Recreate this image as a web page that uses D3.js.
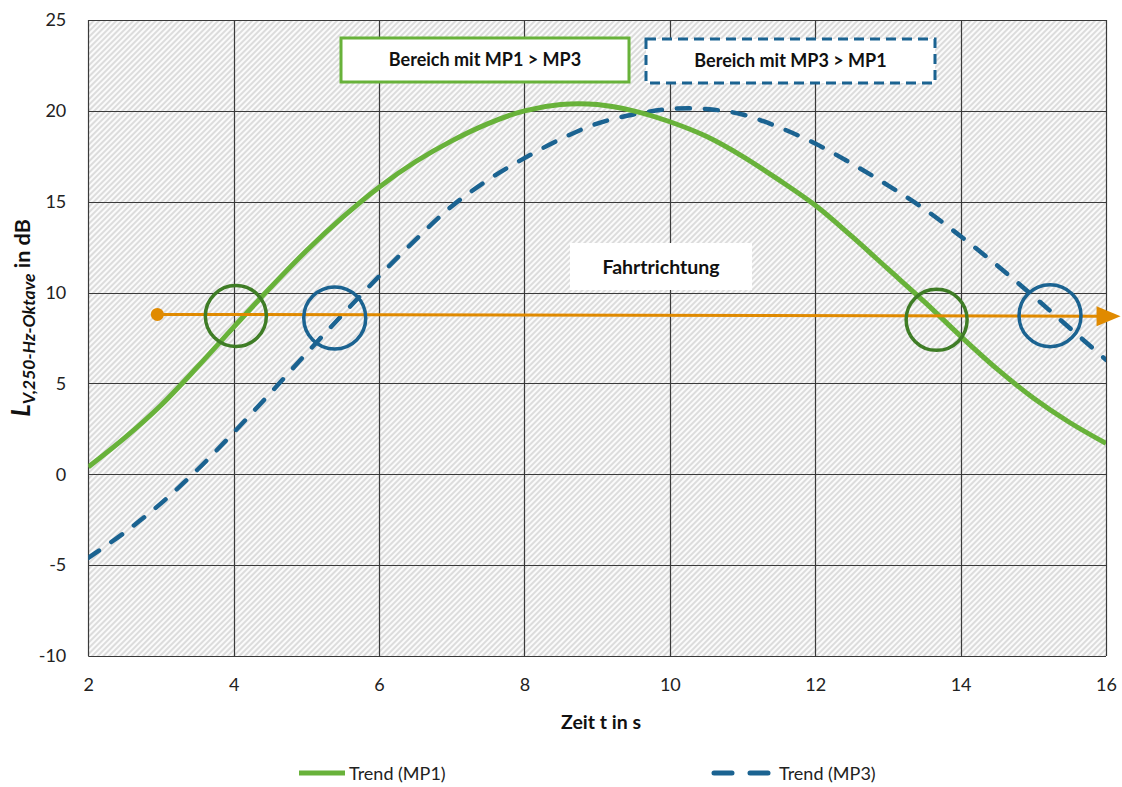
<!DOCTYPE html>
<html>
<head>
<meta charset="utf-8">
<script src="https://cdn.jsdelivr.net/npm/d3@7"></script>
<style>
  html, body { margin: 0; padding: 0; background: #fff; }
  svg { display: block; font-family: Lato, "Open Sans", sans-serif; }
</style>
</head>
<body>
<svg id="chart" width="1122" height="787"></svg>
<script>
// Time axis samples (s)
const timeS = [2, 2.5, 3, 3.5, 4, 4.5, 5, 5.5, 6, 6.5, 7, 7.5, 8, 8.5, 9, 9.5,
               10, 10.5, 11, 11.5, 12, 12.5, 13, 13.5, 14, 14.5, 15, 15.5, 16];
// Trend levels in dB
const trendMP1 = [0.4, 2.0, 3.8, 5.9, 8.1, 10.25, 12.3, 14.15, 15.8, 17.2, 18.35, 19.3, 20.0, 20.35, 20.35, 20.0,
                  19.4, 18.6, 17.5, 16.2, 14.8, 13.1, 11.3, 9.5, 7.6, 5.8, 4.2, 2.85, 1.7];
const trendMP3 = [-4.6, -3.2, -1.6, 0.25, 2.3, 4.45, 6.65, 8.8, 10.9, 12.9, 14.75, 16.2, 17.4, 18.45, 19.3, 19.8,
                  20.1, 20.1, 19.8, 19.1, 18.2, 17.1, 15.9, 14.6, 13.1, 11.5, 9.8, 8.05, 6.3];
// Axis ticks
const xTicks = [2, 4, 6, 8, 10, 12, 14, 16];
const yTicks = [-10, -5, 0, 5, 10, 15, 20, 25];
// Direction-of-travel arrow (t, dB)
const arrowStart = [2.95, 8.8];
const arrowEnd = [16.2, 8.7];
// Crossing markers (t, dB)
const markersMP1 = [[4.03, 8.71], [13.67, 8.5]];
const markersMP3 = [[5.39, 8.6], [15.23, 8.73]];
// Annotation texts
const boxLabels = ["Bereich mit MP1 > MP3", "Bereich mit MP3 > MP1"];
const directionLabel = "Fahrtrichtung";
const seriesNames = ["Trend (MP1)", "Trend (MP3)"];

const colMP1 = "#68b23a", colMP3 = "#1b6391", colMarkMP1 = "#3f7d26", colArrow = "#e08a00";

const svg = d3.select("#chart");
const m = { left: 88.3, top: 20, right: 1106, bottom: 656 };

const x = d3.scaleLinear().domain([2, 16]).range([m.left, m.right]);
const y = d3.scaleLinear().domain([-10, 25]).range([m.bottom, m.top]);

// Hatched plot background
const defs = svg.append("defs");
const pat = defs.append("pattern")
  .attr("id", "hatch").attr("patternUnits", "userSpaceOnUse")
  .attr("width", 4).attr("height", 4)
  .attr("patternTransform", "rotate(45)");
pat.append("rect").attr("width", 4).attr("height", 4).attr("fill", "#fbfbfb");
pat.append("line").attr("x1", 1).attr("y1", 0).attr("x2", 1).attr("y2", 4)
  .attr("stroke", "#cccccc").attr("stroke-width", 1.3);

defs.append("clipPath").attr("id", "plotClip")
  .append("rect").attr("x", m.left).attr("y", m.top)
  .attr("width", m.right - m.left).attr("height", m.bottom - m.top);

svg.append("rect")
  .attr("x", m.left).attr("y", m.top)
  .attr("width", m.right - m.left).attr("height", m.bottom - m.top)
  .attr("fill", "url(#hatch)");

// Grid
const grid = svg.append("g").attr("stroke", "#3a3a3a").attr("stroke-width", 1.2);
grid.selectAll("line.v").data(xTicks).join("line")
  .attr("x1", d => Math.round(x(d)) + 0.5).attr("x2", d => Math.round(x(d)) + 0.5)
  .attr("y1", m.top).attr("y2", m.bottom);
grid.selectAll("line.h").data(yTicks).join("line")
  .attr("y1", d => Math.round(y(d)) + 0.5).attr("y2", d => Math.round(y(d)) + 0.5)
  .attr("x1", m.left).attr("x2", m.right);

// Axes (labels only)
const fmt = d => String(d);
const xAxis = d3.axisBottom(x).tickValues(xTicks).tickFormat(fmt).tickSize(0).tickPadding(22);
const gx = svg.append("g").attr("transform", `translate(0,${m.bottom})`).call(xAxis);
gx.select(".domain").remove();
gx.selectAll("text").attr("font-size", 18).attr("fill", "#222").attr("font-family", "Lato, sans-serif");

const yAxis = d3.axisLeft(y).tickValues(yTicks).tickFormat(fmt).tickSize(0).tickPadding(22);
const gy = svg.append("g").attr("transform", `translate(${m.left},0)`).call(yAxis);
gy.select(".domain").remove();
gy.selectAll("text").attr("font-size", 18).attr("fill", "#222").attr("font-family", "Lato, sans-serif");

// Axis titles
svg.append("text").attr("x", 601).attr("y", 729).attr("text-anchor", "middle")
  .attr("font-size", 19.5).attr("font-weight", "bold").attr("fill", "#111")
  .text("Zeit t in s");

const yt = svg.append("text").attr("transform", "translate(30,318) rotate(-90)")
  .attr("text-anchor", "middle").attr("font-weight", "bold").attr("fill", "#111");
yt.append("tspan").attr("font-size", 26).attr("font-style", "italic").text("L");
yt.append("tspan").attr("font-size", 17.5).attr("font-style", "italic").attr("dy", 5).text("V,250-Hz-Oktave");
yt.append("tspan").attr("font-size", 21.5).attr("dy", -5).text(" in dB");

// Series
const line = d3.line().x((d, i) => x(timeS[i])).y(d => y(d)).curve(d3.curveCatmullRom.alpha(0.5));
const plot = svg.append("g").attr("clip-path", "url(#plotClip)");
plot.append("path").attr("d", line(trendMP3)).attr("fill", "none")
  .attr("stroke", colMP3).attr("stroke-width", 4.5)
  .attr("stroke-dasharray", "13,15").attr("stroke-linecap", "round");
plot.append("path").attr("d", line(trendMP1)).attr("fill", "none")
  .attr("stroke", colMP1).attr("stroke-width", 5);

// Direction arrow
svg.append("line")
  .attr("x1", x(arrowStart[0])).attr("y1", y(arrowStart[1]))
  .attr("x2", x(arrowEnd[0]) - 20).attr("y2", y(arrowEnd[1]))
  .attr("stroke", colArrow).attr("stroke-width", 3);
svg.append("circle").attr("cx", x(arrowStart[0])).attr("cy", y(arrowStart[1])).attr("r", 6.5).attr("fill", colArrow);
const ax = x(arrowEnd[0]), ay = y(arrowEnd[1]);
svg.append("path").attr("d", `M${ax},${ay} L${ax - 24},${ay - 10} L${ax - 24},${ay + 10} Z`).attr("fill", colArrow);

// Crossing markers
svg.selectAll("circle.m1").data(markersMP1).join("circle")
  .attr("cx", d => x(d[0])).attr("cy", d => y(d[1])).attr("r", 30.5)
  .attr("fill", "none").attr("stroke", colMarkMP1).attr("stroke-width", 3.5);
svg.selectAll("circle.m3").data(markersMP3).join("circle")
  .attr("cx", d => x(d[0])).attr("cy", d => y(d[1])).attr("r", 31)
  .attr("fill", "none").attr("stroke", colMP3).attr("stroke-width", 3.5);

// Region boxes
const boxes = [
  { x: 341, y: 38, w: 288, h: 44, stroke: colMP1, dash: null, text: boxLabels[0] },
  { x: 646, y: 39, w: 289, h: 44, stroke: colMP3, dash: "10,6", text: boxLabels[1] }
];
boxes.forEach(b => {
  svg.append("rect").attr("x", b.x).attr("y", b.y).attr("width", b.w).attr("height", b.h)
    .attr("fill", "#fff").attr("stroke", b.stroke).attr("stroke-width", 3)
    .attr("stroke-dasharray", b.dash);
  svg.append("text").attr("x", b.x + b.w / 2).attr("y", b.y + b.h / 2 + 6)
    .attr("text-anchor", "middle").attr("font-size", 18).attr("font-weight", "bold")
    .attr("fill", "#111").text(b.text);
});

// Direction label
svg.append("rect").attr("x", 570).attr("y", 243).attr("width", 182).attr("height", 47).attr("fill", "#fff");
svg.append("text").attr("x", 661).attr("y", 274).attr("text-anchor", "middle")
  .attr("font-size", 19.5).attr("font-weight", "bold").attr("fill", "#111").text(directionLabel);

// Legend
const lg = svg.append("g");
lg.append("line").attr("x1", 299).attr("x2", 345).attr("y1", 773).attr("y2", 773)
  .attr("stroke", colMP1).attr("stroke-width", 5);
lg.append("text").attr("x", 349).attr("y", 780).attr("font-size", 18).attr("fill", "#222").text(seriesNames[0]);
lg.append("line").attr("x1", 714).attr("x2", 775).attr("y1", 773).attr("y2", 773)
  .attr("stroke", colMP3).attr("stroke-width", 5).attr("stroke-linecap", "round")
  .attr("stroke-dasharray", "18,18");
lg.append("text").attr("x", 779).attr("y", 780).attr("font-size", 18).attr("fill", "#222").text(seriesNames[1]);
</script>
</body>
</html>
